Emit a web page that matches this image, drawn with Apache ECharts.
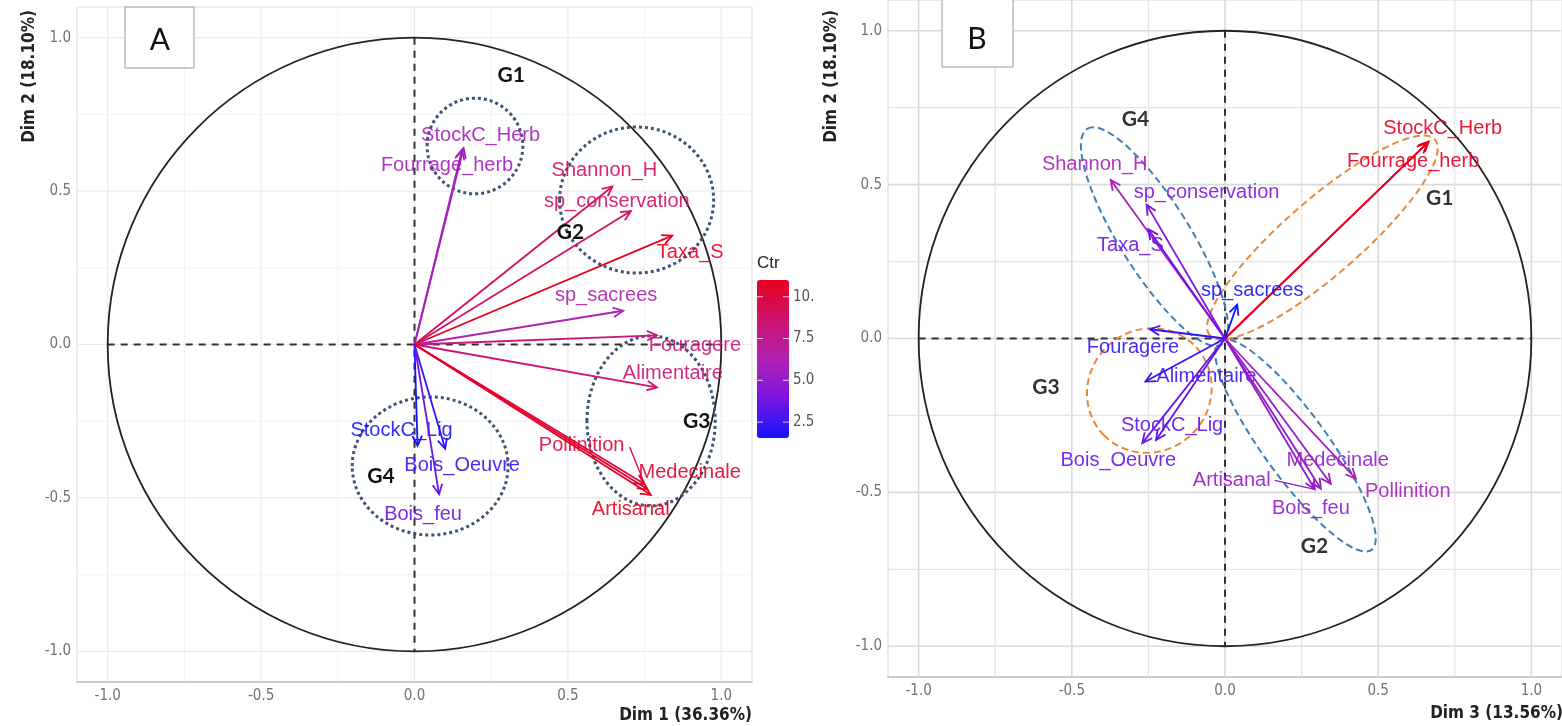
<!DOCTYPE html>
<html>
<head>
<meta charset="utf-8">
<script src="https://cdn.jsdelivr.net/npm/echarts@6/dist/echarts.min.js"></script>
<style>
  html, body { margin: 0; padding: 0; background: #fff; }
  #main { width: 1562px; height: 726px; }
</style>
</head>
<body>
<div id="main"></div>
<script>
// variables, same order in both panels
const varNames = ['StockC_Herb', 'Fourrage_herb', 'Shannon_H', 'sp_conservation', 'Taxa_S', 'sp_sacrees',
  'Fouragere', 'Alimentaire', 'Pollinition', 'Medecinale', 'Artisanal', 'StockC_Lig', 'Bois_Oeuvre', 'Bois_feu'];
const dim1 = [0.16, 0.155, 0.645, 0.705, 0.84, 0.68, 0.79, 0.79, 0.75, 0.76, 0.77, 0.01, 0.10, 0.08];
const dim2 = [0.64, 0.635, 0.515, 0.435, 0.355, 0.11, 0.03, -0.14, -0.455, -0.472, -0.49, -0.33, -0.34, -0.488];
const dim3 = [0.665, 0.66, -0.373, -0.256, -0.25, 0.04, -0.245, -0.26, 0.427, 0.345, 0.293, -0.225, -0.27, 0.313];
// contribution (Ctr) used for the colour
const ctrA = [5.9, 5.8, 9.0, 8.9, 10.9, 6.2, 8.2, 8.4, 10.1, 10.5, 10.9, 1.55, 2.3, 3.6];
const ctrB = [19.4, 19.1, 9.3, 5.7, 4.4, 0.3, 1.6, 2.2, 8.8, 7.7, 7.4, 3.8, 4.3, 7.5];

const tickValues = [-1, -0.5, 0, 0.5, 1];
const minorValues = [-0.75, -0.25, 0.25, 0.75];
const legendTicks = [2.5, 5.0, 7.5, 10];
const legendLabels = ['2.5', '5.0', '7.5', '10.'];
const ctrRangeA = [1.55, 11.0];
const ctrRangeB = [0.3, 19.4];
const ctrColors = ['#1414ff', '#7a14e2', '#b022b2', '#d0126c', '#e8001e'];

// hand-drawn group annotations (data units)
const groupNames = ['G1', 'G2', 'G3', 'G4'];
const shapesA = [[0.197, 0.647, 0.156, 0.156, 0], [0.724, 0.471, 0.251, 0.238, 0],
  [0.771, -0.249, 0.209, 0.277, 0], [0.051, -0.396, 0.254, 0.225, 0]];
const labelsA = [[0.315, 0.878], [0.508, 0.367], [0.920, -0.249], [-0.109, -0.429]];
const shapesB = [[0.318, 0.328, 0.487, 0.123, 41], [0.230, -0.347, 0.422, 0.104, -54],
  [-0.247, -0.169, 0.208, 0.198, 45], [-0.230, 0.331, 0.415, 0.114, -58]];
const labelsB = [[0.701, 0.457], [0.292, -0.675], [-0.584, -0.159], [-0.292, 0.714]];
const shapeColorsB = ['#e8893c', '#3f7fb5', '#e8893c', '#3f7fb5'];

// label placement (pixels from arrow tip), like ggrepel did it
const offA = {
  StockC_Herb: [17, -13], Fourrage_herb: [-15, 16], Shannon_H: [-8, -16], sp_conservation: [-14, -10],
  Taxa_S: [18, 17], sp_sacrees: [-17, -15], Fouragere: [38, 10], Alimentaire: [16, -14],
  Pollinition: [-63, -39], Medecinale: [42, -17], Artisanal: [-20, 15], StockC_Lig: [-16, -15],
  Bois_Oeuvre: [17, 17], Bois_feu: [-16, 20]
};
const offB = {
  StockC_Herb: [14, -13], Fourrage_herb: [-14, 18], Shannon_H: [-16, -16], sp_conservation: [60, -12],
  Taxa_S: [-18, 16], sp_sacrees: [15, -14], Fouragere: [-17, 18], Alimentaire: [61, -5],
  Pollinition: [52, 13], Medecinale: [7, -23], Artisanal: [-83, -9], StockC_Lig: [16, -15],
  Bois_Oeuvre: [-24, 17], Bois_feu: [-10, 20]
};
const segA = { Pollinition: [-15, -37] };
const segB = { Artisanal: [-40, -9] };

const narrow = '"Liberation Sans Narrow", "Arial Narrow", "DejaVu Sans Condensed", Arial, sans-serif';
const labelFont = '"Liberation Sans", Arial, sans-serif';

const chart = echarts.init(document.getElementById('main'));

function gridSeries(gi, major, minor) {
  return {
    type: 'custom', xAxisIndex: gi, yAxisIndex: gi, z: 1, silent: true,
    data: tickValues.map(v => [v, 0, 1]).concat(minorValues.map(v => [v, 0, 0])),
    encode: { x: 0, y: 1 },
    renderItem: function (params, api) {
      const cs = params.coordSys;
      const v = api.value(0);
      const px = api.coord([v, 0])[0];
      const py = api.coord([0, v])[1];
      const st = api.value(2) ? major : minor;
      return {
        type: 'group', children: [
          { type: 'line', shape: { x1: px, y1: cs.y, x2: px, y2: cs.y + cs.height }, style: st },
          { type: 'line', shape: { x1: cs.x, y1: py, x2: cs.x + cs.width, y2: py }, style: st }
        ]
      };
    }
  };
}

function frameSeries(gi) {
  return {
    type: 'custom', xAxisIndex: gi, yAxisIndex: gi, z: 2, silent: true,
    data: [[0, 0]], encode: { x: 0, y: 1 },
    renderItem: function (params, api) {
      const c = api.coord([0, 0]);
      const s = api.size([1, 1]);
      const l = api.coord([-1, 0]), r = api.coord([1, 0]);
      const t = api.coord([0, 1]), b = api.coord([0, -1]);
      const dash = { stroke: '#333', lineWidth: 2, lineDash: [7, 6] };
      return {
        type: 'group', children: [
          { type: 'line', shape: { x1: l[0], y1: l[1], x2: r[0], y2: r[1] }, style: dash },
          { type: 'line', shape: { x1: t[0], y1: t[1], x2: b[0], y2: b[1] }, style: dash },
          { type: 'ellipse', shape: { cx: c[0], cy: c[1], rx: s[0], ry: s[1] },
            style: { stroke: '#222', lineWidth: 1.8, fill: null } }
        ]
      };
    }
  };
}

function shapeSeries(gi, shapes, styleFn) {
  return {
    type: 'custom', xAxisIndex: gi, yAxisIndex: gi, z: 3, silent: true,
    data: shapes, encode: { x: 0, y: 1 },
    renderItem: function (params, api) {
      const c = api.coord([api.value(0), api.value(1)]);
      const s = api.size([api.value(2), api.value(3)]);
      return {
        type: 'ellipse', x: c[0], y: c[1], rotation: api.value(4) * Math.PI / 180,
        shape: { cx: 0, cy: 0, rx: s[0], ry: s[1] },
        style: styleFn(params.dataIndex)
      };
    }
  };
}

function groupLabelSeries(gi, pts, color) {
  return {
    type: 'custom', xAxisIndex: gi, yAxisIndex: gi, z: 6, silent: true,
    data: pts, encode: { x: 0, y: 1 },
    renderItem: function (params, api) {
      const c = api.coord([api.value(0), api.value(1)]);
      return {
        type: 'text', x: c[0], y: c[1],
        style: { text: groupNames[params.dataIndex], fill: color, fontSize: 21, fontWeight: 'bold',
          fontFamily: 'Lato, "Open Sans", sans-serif', align: 'center', verticalAlign: 'middle' }
      };
    }
  };
}

function arrowSeries(gi, xs, ys, ctr, offs, segs) {
  return {
    type: 'custom', xAxisIndex: gi, yAxisIndex: gi, z: 5, silent: true,
    data: varNames.map((n, i) => [xs[i], ys[i], ctr[i]]),
    encode: { x: 0, y: 1 },
    renderItem: function (params, api) {
      const name = varNames[params.dataIndex];
      const o = api.coord([0, 0]);
      const t = api.coord([api.value(0), api.value(1)]);
      const color = api.visual('color');
      const ang = Math.atan2(t[1] - o[1], t[0] - o[0]);
      const L = 11, w = Math.PI / 7;
      const head = [
        [t[0] - L * Math.cos(ang - w), t[1] - L * Math.sin(ang - w)],
        [t[0], t[1]],
        [t[0] - L * Math.cos(ang + w), t[1] - L * Math.sin(ang + w)]
      ];
      const off = offs[name] || [0, 0];
      const children = [
        { type: 'line', shape: { x1: o[0], y1: o[1], x2: t[0], y2: t[1] }, style: { stroke: color, lineWidth: 1.8 } },
        { type: 'polyline', shape: { points: head }, style: { stroke: color, fill: null, lineWidth: 1.8 } }
      ];
      if (segs[name]) {
        children.push({ type: 'line',
          shape: { x1: t[0] + segs[name][0], y1: t[1] + segs[name][1], x2: t[0], y2: t[1] },
          style: { stroke: color, lineWidth: 1.3 } });
      }
      children.push({
        type: 'text', x: t[0] + off[0], y: t[1] + off[1],
        style: { text: name, fill: color, fontSize: 20, fontFamily: labelFont,
          align: 'center', verticalAlign: 'middle', opacity: 0.9 }
      });
      return { type: 'group', children: children };
    }
  };
}

function xAxis(gi) {
  return {
    type: 'value', gridIndex: gi, min: -1.1, max: 1.1,
    splitLine: { show: false }, axisTick: { show: false },
    axisLine: { show: true, onZero: false, lineStyle: { color: '#cbcbcb', width: 2 } },
    axisLabel: { customValues: tickValues, formatter: v => v.toFixed(1), color: '#727272',
      fontSize: 15, fontFamily: narrow, margin: 7 }
  };
}
function yAxis(gi) {
  return {
    type: 'value', gridIndex: gi, min: -1.1, max: 1.1,
    splitLine: { show: false }, axisTick: { show: false },
    axisLine: { show: false, onZero: false },
    axisLabel: { customValues: tickValues, formatter: v => v.toFixed(1), color: '#727272',
      fontSize: 15, fontFamily: narrow, margin: 6 }
  };
}

const dotted = () => ({ stroke: '#3b5577', lineWidth: 3, lineDash: [3, 3], fill: null });
const dashedB = i => ({ stroke: shapeColorsB[i], lineWidth: 2, lineDash: [7, 4], fill: null });

const legendTop = 280, legendH = 158, legendLeft = 757, legendW = 32;
const legendGraphics = [];
legendTicks.forEach((v, i) => {
  const y = legendTop + legendH - (v - ctrRangeA[0]) / (ctrRangeA[1] - ctrRangeA[0]) * legendH;
  legendGraphics.push(
    { type: 'line', shape: { x1: legendLeft, y1: y, x2: legendLeft + 6, y2: y }, style: { stroke: 'rgba(255,255,255,0.8)', lineWidth: 1 }, z: 100 },
    { type: 'line', shape: { x1: legendLeft + legendW - 6, y1: y, x2: legendLeft + legendW, y2: y }, style: { stroke: 'rgba(255,255,255,0.8)', lineWidth: 1 }, z: 100 },
    { type: 'text', x: 793, y: y, style: { text: legendLabels[i], fill: '#555', fontSize: 15, fontFamily: narrow, verticalAlign: 'middle' }, z: 100 }
  );
});

const titleStyle = { fill: '#222', fontSize: 17, fontWeight: 'bold', fontFamily: narrow, align: 'right', verticalAlign: 'middle' };

const option = {
  animation: false,
  backgroundColor: '#fff',
  grid: [
    { left: 77, top: 7, width: 675, height: 675, show: true, borderColor: '#dcdcdc', borderWidth: 1, backgroundColor: '#fff' },
    { left: 888, top: -1, width: 678, height: 678, show: true, borderColor: '#d6d6d6', borderWidth: 1, backgroundColor: '#fff' }
  ],
  xAxis: [xAxis(0), xAxis(1)],
  yAxis: [yAxis(0), yAxis(1)],
  visualMap: [
    { type: 'continuous', seriesIndex: 4, dimension: 2, min: ctrRangeA[0], max: ctrRangeA[1],
      inRange: { color: ctrColors }, calculable: false, left: legendLeft, top: legendTop,
      itemWidth: legendW, itemHeight: legendH, padding: 0, text: null, show: true },
    { type: 'continuous', seriesIndex: 9, dimension: 2, min: ctrRangeB[0], max: ctrRangeB[1],
      inRange: { color: ctrColors }, show: false }
  ],
  series: [
    gridSeries(0, { stroke: '#ebebeb', lineWidth: 1.2 }, { stroke: '#f3f3f3', lineWidth: 1 }),
    frameSeries(0),
    shapeSeries(0, shapesA, dotted),
    groupLabelSeries(0, labelsA, '#111'),
    arrowSeries(0, dim1, dim2, ctrA, offA, segA),
    gridSeries(1, { stroke: '#dadada', lineWidth: 1.6 }, { stroke: '#e4e4e4', lineWidth: 1.2 }),
    frameSeries(1),
    shapeSeries(1, shapesB, dashedB),
    groupLabelSeries(1, labelsB, '#333'),
    arrowSeries(1, dim3, dim2, ctrB, offB, segB)
  ],
  graphic: [
    { type: 'rect', shape: { x: 125, y: 7, width: 69, height: 61 }, style: { fill: '#fff', stroke: '#9a9a9a', lineWidth: 1 }, z: 100 },
    { type: 'text', x: 160, y: 40, style: { text: 'A', fill: '#111', fontSize: 30, fontFamily: 'Lato, sans-serif', align: 'center', verticalAlign: 'middle' }, z: 101 },
    { type: 'rect', shape: { x: 942, y: -1, width: 71, height: 68 }, style: { fill: '#fff', stroke: '#9a9a9a', lineWidth: 1 }, z: 100 },
    { type: 'text', x: 977, y: 39, style: { text: 'B', fill: '#111', fontSize: 30, fontFamily: 'Lato, sans-serif', align: 'center', verticalAlign: 'middle' }, z: 101 },
    { type: 'text', x: 752, y: 716, style: Object.assign({ text: 'Dim 1 (36.36%)' }, titleStyle), z: 100 },
    { type: 'text', x: 1563, y: 714, style: Object.assign({ text: 'Dim 3 (13.56%)' }, titleStyle), z: 100 },
    { type: 'text', x: 30, y: 10, rotation: Math.PI / 2, style: Object.assign({ text: 'Dim 2 (18.10%)' }, titleStyle), z: 100 },
    { type: 'text', x: 832, y: 10, rotation: Math.PI / 2, style: Object.assign({ text: 'Dim 2 (18.10%)' }, titleStyle), z: 100 },
    { type: 'text', x: 757, y: 263, style: { text: 'Ctr', fill: '#222', fontSize: 17, fontFamily: labelFont, verticalAlign: 'middle' }, z: 100 }
  ].concat(legendGraphics)
};

chart.setOption(option);
</script>
</body>
</html>
